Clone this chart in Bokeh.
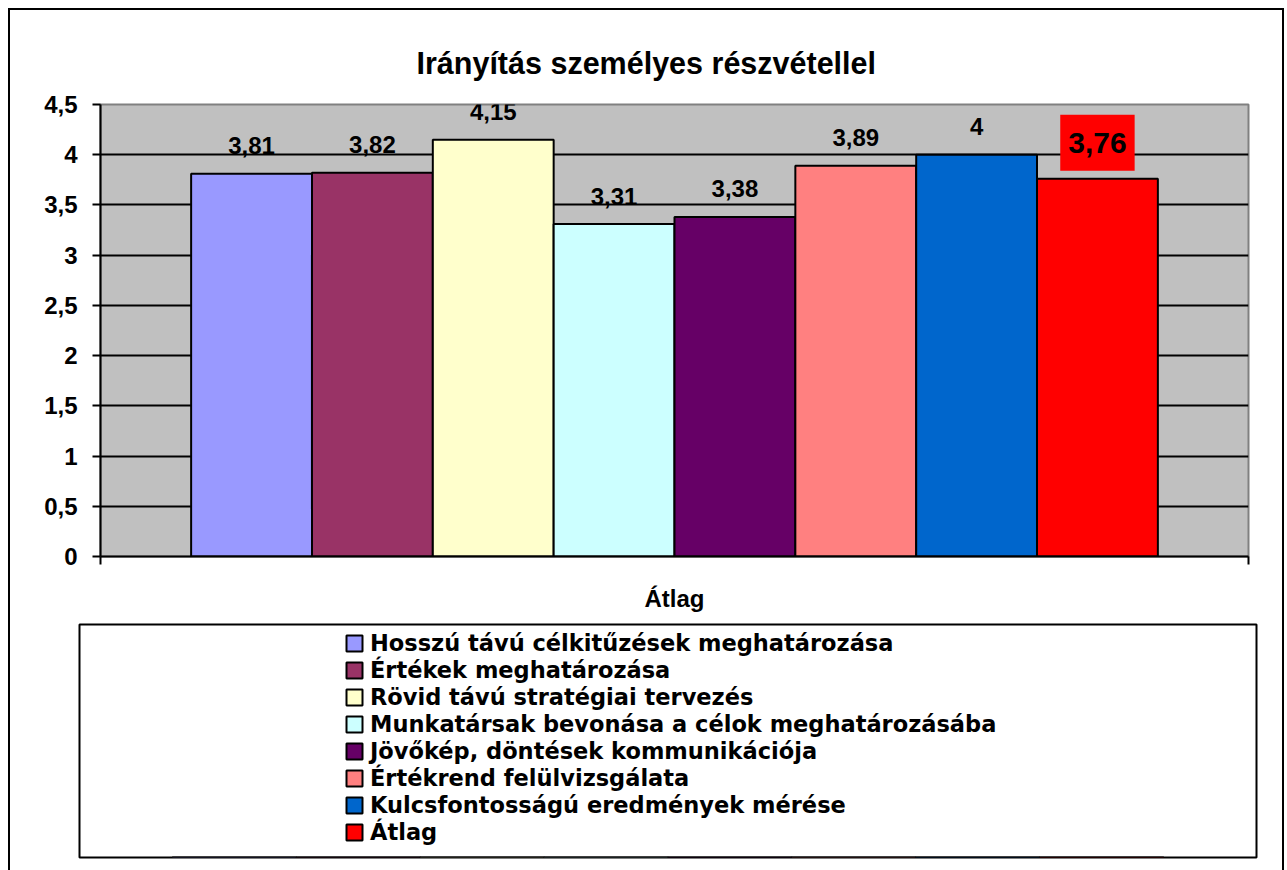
from bokeh.plotting import figure
from bokeh.models import ColumnDataSource, Range1d, FixedTicker, Legend, LegendItem
from bokeh.layouts import column
from bokeh.core.properties import value
from bokeh.embed import file_html
from bokeh.resources import INLINE

# ---- data ----
title_text = "Irányítás személyes részvétellel"
category = "Átlag"
series = [
    "Hosszú távú célkitűzések meghatározása",
    "Értékek meghatározása",
    "Rövid távú stratégiai tervezés",
    "Munkatársak bevonása a célok meghatározásába",
    "Jövőkép, döntések kommunikációja",
    "Értékrend felülvizsgálata",
    "Kulcsfontosságú eredmények mérése",
    "Átlag",
]
values = [3.81, 3.82, 4.15, 3.31, 3.38, 3.89, 4.00, 3.76]
value_labels = ["3,81", "3,82", "4,15", "3,31", "3,38", "3,89", "4", "3,76"]
colors = ["#9999FF", "#993366", "#FFFFCC", "#CCFFFF", "#660066", "#FF8080", "#0066CC", "#FF0000"]
y_ticks = [0, 0.5, 1, 1.5, 2, 2.5, 3, 3.5, 4, 4.5]
y_tick_labels = ["0", "0,5", "1", "1,5", "2", "2,5", "3", "3,5", "4", "4,5"]

FONT = "Liberation Sans"
LEGEND_FONT = "DejaVu Sans"
n = len(series)
xs = [i + 0.5 for i in range(n)]
center = n / 2
gap = 0.75

src = ColumnDataSource(dict(x=xs, top=values, color=colors))
lbl_src = ColumnDataSource(dict(x=xs[:-1], y=values[:-1], text=value_labels[:-1]))
avg_src = ColumnDataSource(dict(x=xs[-1:], y=values[-1:], text=value_labels[-1:]))

p = figure(width=1272, height=610,
           x_range=Range1d(-gap, n + gap), y_range=Range1d(y_ticks[0], y_ticks[-1]),
           output_backend="svg", toolbar_location=None,
           min_border_left=90, min_border_right=34, min_border_top=94, min_border_bottom=64)
p.background_fill_color = "#C0C0C0"
p.border_fill_color = "white"
p.outline_line_color = "#808080"
p.outline_line_width = 2

p.title.text = title_text
p.title.align = "left"
p.title.offset = 316
p.title.text_font = FONT
p.title.text_font_size = "30.5px"
p.title.text_font_style = "bold"
p.title.text_color = "black"
p.title.standoff = 50

p.ygrid.ticker = FixedTicker(ticks=y_ticks[1:-1])
p.ygrid.grid_line_color = "black"
p.ygrid.grid_line_width = 2
p.xgrid.visible = False

bars = p.vbar(x="x", top="top", bottom=0, width=1, fill_color="color",
              line_color="black", line_width=2, source=src)

p.text(x="x", y="y", text="text", source=lbl_src, text_font=value(FONT),
       text_font_style="bold", text_font_size="24px", text_align="center",
       text_baseline="alphabetic", y_offset=-28, text_color="black")
p.text(x="x", y="y", text="text", source=avg_src, text_font=value(FONT),
       text_font_style="bold", text_font_size="30px", text_align="center",
       text_baseline="alphabetic", y_offset=-36, text_color="black",
       background_fill_color="#FF0000", padding=(8, 18))

ya = p.yaxis[0]
ya.ticker = FixedTicker(ticks=y_ticks)
ya.major_label_overrides = dict(zip(y_ticks, y_tick_labels))
ya.axis_line_color = "black"
ya.axis_line_width = 2
ya.major_tick_out = 8
ya.major_tick_in = 0
ya.major_tick_line_width = 2
ya.major_tick_line_color = "black"
ya.minor_tick_out = 0
ya.minor_tick_in = 0
ya.major_label_text_font = FONT
ya.major_label_text_font_size = "24px"
ya.major_label_text_font_style = "bold"
ya.major_label_text_color = "black"
ya.major_label_standoff = 15

xa = p.xaxis[0]
xa.ticker = FixedTicker(ticks=[center], minor_ticks=[-gap, n + gap])
xa.major_label_overrides = {center: category}
xa.axis_line_color = "black"
xa.axis_line_width = 2
xa.major_tick_out = 0
xa.major_tick_in = 0
xa.minor_tick_out = 8
xa.minor_tick_in = 0
xa.minor_tick_line_width = 2
xa.minor_tick_line_color = "black"
xa.major_label_text_font = FONT
xa.major_label_text_font_size = "24px"
xa.major_label_text_font_style = "bold"
xa.major_label_text_color = "black"
xa.major_label_standoff = 20

# ---- legend panel ----
p2 = figure(width=1272, height=250, x_range=Range1d(-gap, n + gap), y_range=Range1d(10, 11),
            output_backend="svg", toolbar_location=None,
            x_axis_type=None, y_axis_type=None,
            min_border_left=69, min_border_right=26, min_border_top=4, min_border_bottom=13)
p2.outline_line_color = "black"
p2.outline_line_width = 2
p2.background_fill_color = "white"
p2.border_fill_color = "white"
p2.grid.visible = False

# legend swatches come from a (hidden, out-of-range) copy of the bar renderer
leg_r = p2.vbar(x="x", top="top", bottom=0, width=1, fill_color="color",
                line_color="black", line_width=2, source=src)
items = [LegendItem(label=s, renderers=[leg_r], index=i) for i, s in enumerate(series)]

legend = Legend(items=items, location=(265, 12), padding=0, margin=0, spacing=0,
                border_line_color=None, background_fill_alpha=0,
                glyph_width=20, glyph_height=20, label_standoff=6, label_height=27,
                label_text_font=LEGEND_FONT, label_text_font_size="22.5px",
                label_text_font_style="bold", label_text_color="black")
p2.add_layout(legend)

for fig in (p, p2):
    try:
        fig.frame_align = False
    except Exception:
        pass

lay = column(p, p2, spacing=0,
             styles={"margin-left": "8px", "margin-top": "8px",
                     "border-left": "2px solid black", "border-top": "2px solid black",
                     "border-right": "2px solid black"})

open("out.html", "w").write(file_html(lay, INLINE))
